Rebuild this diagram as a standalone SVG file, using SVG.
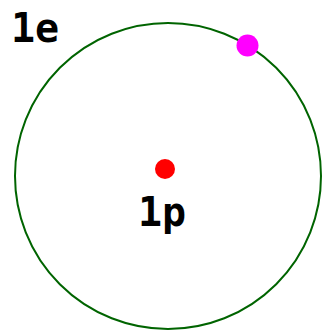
<svg xmlns="http://www.w3.org/2000/svg" width="322" height="332" viewBox="0 0 322 332">
<style>
text{font-family:"DejaVu Sans Mono",monospace;font-weight:bold;font-size:40px;fill:#000}
</style>
<rect width="322" height="332" fill="#fff"/>
<g id="orbit"><circle cx="168" cy="176" r="153" fill="none" stroke="#006400" stroke-width="2"/></g>
<g id="proton"><circle cx="165" cy="169" r="10" fill="#f00"/><text x="138" y="226">1p</text></g>
<g id="electron"><circle cx="247.5" cy="45.5" r="11" fill="#f0f"/></g>
<g id="label-e"><text x="11" y="42">1e</text></g>
</svg>
